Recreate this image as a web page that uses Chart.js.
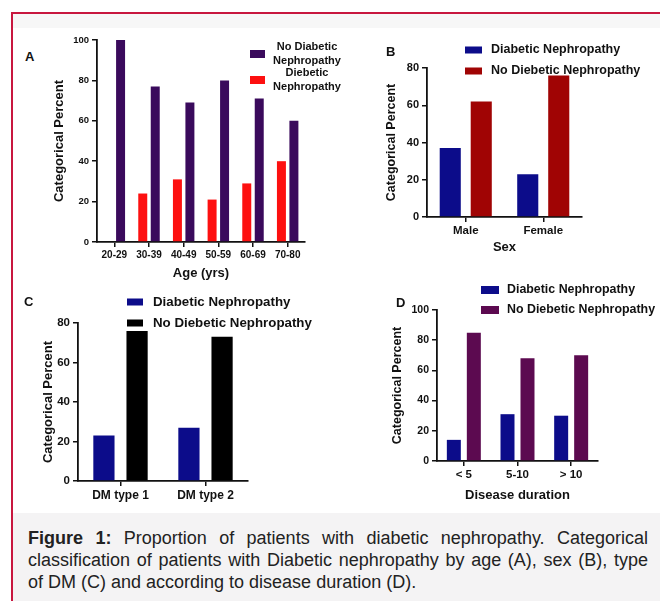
<!DOCTYPE html>
<html>
<head>
<meta charset="utf-8">
<title>Figure 1</title>
<script src="https://cdn.jsdelivr.net/npm/chart.js@4.4.1/dist/chart.umd.min.js"></script>
<style>
  body { margin: 0; background: #fff; }
  #page { position: relative; width: 660px; height: 601px; overflow: hidden; font-family: "Liberation Sans", Arial, sans-serif; }
  #frame { position: absolute; left: 11px; top: 12px; width: 700px; height: 700px; border-left: 2px solid #c8173f; border-top: 2px solid #c8173f; background: #fff; }
  #strip { position: absolute; left: 13px; top: 14px; width: 660px; height: 14px; background: #f7f7f7; }
  #capbg { position: absolute; left: 13px; top: 513px; width: 660px; height: 100px; background: #f4f3f4; }
  canvas { position: absolute; }
  .letter { position: absolute; font-weight: bold; font-size: 13px; color: #111; line-height: 14px; }
  #caption { position: absolute; left: 28px; top: 527px; width: 620px; font-size: 18px; line-height: 22px; color: #222; }
  #caption div { text-align: justify; text-align-last: justify; white-space: nowrap; }
  #caption div.last { text-align-last: left; }
</style>
</head>
<body>
<div id="page">
  <div id="frame"></div>
  <div id="strip"></div>
  <div id="capbg"></div>

  <canvas id="chartA" width="320" height="257" style="left:38px; top:28px"></canvas>
  <canvas id="chartB" width="285" height="225" style="left:375px; top:35px"></canvas>
  <canvas id="chartC" width="320" height="225" style="left:20px; top:285px"></canvas>
  <canvas id="chartD" width="280" height="232" style="left:380px; top:278px"></canvas>

  <div class="letter" style="left:25px; top:50px">A</div>
  <div class="letter" style="left:386px; top:45px">B</div>
  <div class="letter" style="left:24px; top:295px">C</div>
  <div class="letter" style="left:396px; top:296px">D</div>

  <div id="caption">
    <div><b>Figure 1:</b> Proportion of patients with diabetic nephropathy. Categorical</div>
    <div>classification of patients with Diabetic nephropathy by age (A), sex (B), type</div>
    <div class="last">of DM (C) and according to disease duration (D).</div>
  </div>
</div>

<script>
// panel A: age
const ageGroups = ['20-29', '30-39', '40-49', '50-59', '60-69', '70-80'];
const ageDN = [null, 24, 31, 21, 29, 40];
const ageNoDN = [100, 77, 69, 80, 71, 60];
const ticksA = [0, 20, 40, 60, 80, 100];

// panel B: sex
const sexGroups = ['Male', 'Female'];
const sexDN = [37, 23];
const sexNoDN = [62, 76];
const ticksB = [0, 20, 40, 60, 80];

// panel C: type of DM
const dmTypes = ['DM type 1', 'DM type 2'];
const dmDN = [23, 27];
const dmNoDN = [76, 73];
const ticksC = [0, 20, 40, 60, 80];

// panel D: disease duration
const durations = ['< 5', '5-10', '> 10'];
const durDN = [14, 31, 30];
const durNoDN = [85, 68, 70];
const ticksD = [0, 20, 40, 60, 80, 100];

const FONT = '"Liberation Sans", Arial, sans-serif';
const INK = '#111';

// legend drawn at a fixed spot of each panel, from the chart's own datasets
const panelLegend = {
  id: 'panelLegend',
  afterDraw(chart, args, opts) {
    const ctx = chart.ctx;
    ctx.save();
    ctx.font = `bold ${opts.size}px ${FONT}`;
    ctx.fillStyle = INK;
    ctx.textBaseline = 'middle';
    opts.order.forEach((di, i) => {
      const ds = chart.data.datasets[di];
      const y = opts.y + i * opts.gap;
      if (opts.twoLine) {
        const cut = ds.label.lastIndexOf(' ');
        ctx.fillStyle = ds.backgroundColor;
        ctx.fillRect(opts.boxX, y + 7 - opts.boxH / 2, opts.boxW, opts.boxH);
        ctx.fillStyle = INK;
        ctx.textAlign = 'center';
        ctx.fillText(ds.label.slice(0, cut), opts.textX, y);
        ctx.fillText(ds.label.slice(cut + 1), opts.textX, y + 14);
      } else {
        ctx.fillStyle = ds.backgroundColor;
        ctx.fillRect(opts.boxX, y - opts.boxH / 2, opts.boxW, opts.boxH);
        ctx.fillStyle = INK;
        ctx.textAlign = 'left';
        ctx.fillText(ds.label, opts.textX, y);
      }
    });
    ctx.restore();
  }
};

function makePanel(id, p) {
  return new Chart(document.getElementById(id), {
    type: 'bar',
    data: {
      labels: p.labels,
      datasets: p.datasets.map(d => ({
        label: d.label,
        data: d.data,
        backgroundColor: d.color,
        borderWidth: 0,
        categoryPercentage: p.catPct,
        barPercentage: p.barPct
      }))
    },
    options: {
      responsive: false,
      animation: false,
      devicePixelRatio: 1,
      layout: { padding: { top: p.padTop, right: p.padRight, left: 0, bottom: 0 } },
      plugins: {
        legend: { display: false },
        tooltip: { enabled: false },
        panelLegend: p.legend
      },
      scales: {
        x: {
          afterFit: s => { s.height = p.xHeight; },
          grid: { display: true, offset: false, drawOnChartArea: false, drawTicks: true, tickLength: 5, color: INK, lineWidth: 1.5 },
          border: { display: true, color: INK, width: 1.8 },
          ticks: { color: INK, padding: 2, font: { family: FONT, size: p.xTickSize, weight: 'bold' }, maxRotation: 0 },
          title: p.xTitle
            ? { display: true, text: p.xTitle, color: INK, font: { family: FONT, size: 13, weight: 'bold' }, padding: { top: 0, bottom: p.xTitlePad } }
            : { display: false }
        },
        y: {
          min: 0,
          max: p.ticks[p.ticks.length - 1],
          afterFit: s => { s.width = p.yWidth; },
          afterBuildTicks: s => { s.ticks = p.ticks.map(v => ({ value: v })); },
          grid: { display: true, drawOnChartArea: false, drawTicks: true, tickLength: 5, color: INK, lineWidth: 1.5 },
          border: { display: true, color: INK, width: 1.8 },
          ticks: { color: INK, padding: 3, font: { family: FONT, size: p.yTickSize, weight: 'bold' } },
          title: { display: true, text: 'Categorical Percent', color: INK, font: { family: FONT, size: p.yTitleSize, weight: 'bold' }, padding: { top: p.yTitlePad, bottom: 0 } }
        }
      }
    },
    plugins: [panelLegend]
  });
}

makePanel('chartA', {
  labels: ageGroups,
  datasets: [
    { label: 'Diebetic Nephropathy', data: ageDN, color: '#fd1010' },
    { label: 'No Diabetic Nephropathy', data: ageNoDN, color: '#3a0a5c' }
  ],
  catPct: 0.72, barPct: 0.72,
  padTop: 12, padRight: 53, xHeight: 43, yWidth: 59,
  xTickSize: 10, yTickSize: 9.5, yTitleSize: 13, yTitlePad: 14,
  xTitle: 'Age (yrs)', xTitlePad: 4,
  ticks: ticksA,
  legend: { order: [1, 0], twoLine: true, size: 11, boxX: 212, boxW: 15, boxH: 8, textX: 269, y: 19, gap: 26 }
});

makePanel('chartB', {
  labels: sexGroups,
  datasets: [
    { label: 'Diabetic Nephropathy', data: sexDN, color: '#0c0c8a' },
    { label: 'No Diebetic Nephropathy', data: sexNoDN, color: '#a00404' }
  ],
  catPct: 0.8, barPct: 0.68,
  padTop: 33, padRight: 78, xHeight: 43, yWidth: 52,
  xTickSize: 11.5, yTickSize: 11, yTitleSize: 12.5, yTitlePad: 9.5,
  xTitle: 'Sex', xTitlePad: 4.5,
  ticks: ticksB,
  legend: { order: [0, 1], twoLine: false, size: 12.5, boxX: 90, boxW: 17, boxH: 7, textX: 116, y: 15, gap: 21 }
});

makePanel('chartC', {
  labels: dmTypes,
  datasets: [
    { label: 'Diabetic Nephropathy', data: dmDN, color: '#0c0c8a' },
    { label: 'No Diebetic Nephropathy', data: dmNoDN, color: '#000000' }
  ],
  catPct: 0.78, barPct: 0.64,
  padTop: 38, padRight: 92, xHeight: 29, yWidth: 58,
  xTickSize: 12, yTickSize: 11.5, yTitleSize: 13, yTitlePad: 21,
  xTitle: null, xTitlePad: 0,
  ticks: ticksC,
  legend: { order: [0, 1], twoLine: false, size: 13.3, boxX: 107, boxW: 16, boxH: 7, textX: 133, y: 17, gap: 21 }
});

makePanel('chartD', {
  labels: durations,
  datasets: [
    { label: 'Diabetic Nephropathy', data: durDN, color: '#0c0c8a' },
    { label: 'No Diebetic Nephropathy', data: durNoDN, color: '#5c0a50' }
  ],
  catPct: 0.745, barPct: 0.7,
  padTop: 32, padRight: 62, xHeight: 49, yWidth: 57,
  xTickSize: 11.5, yTickSize: 10.5, yTitleSize: 12.5, yTitlePad: 10.5,
  xTitle: 'Disease duration', xTitlePad: 7,
  ticks: ticksD,
  legend: { order: [0, 1], twoLine: false, size: 12.4, boxX: 101, boxW: 18, boxH: 8, textX: 127, y: 12, gap: 20 }
});
</script>
</body>
</html>
